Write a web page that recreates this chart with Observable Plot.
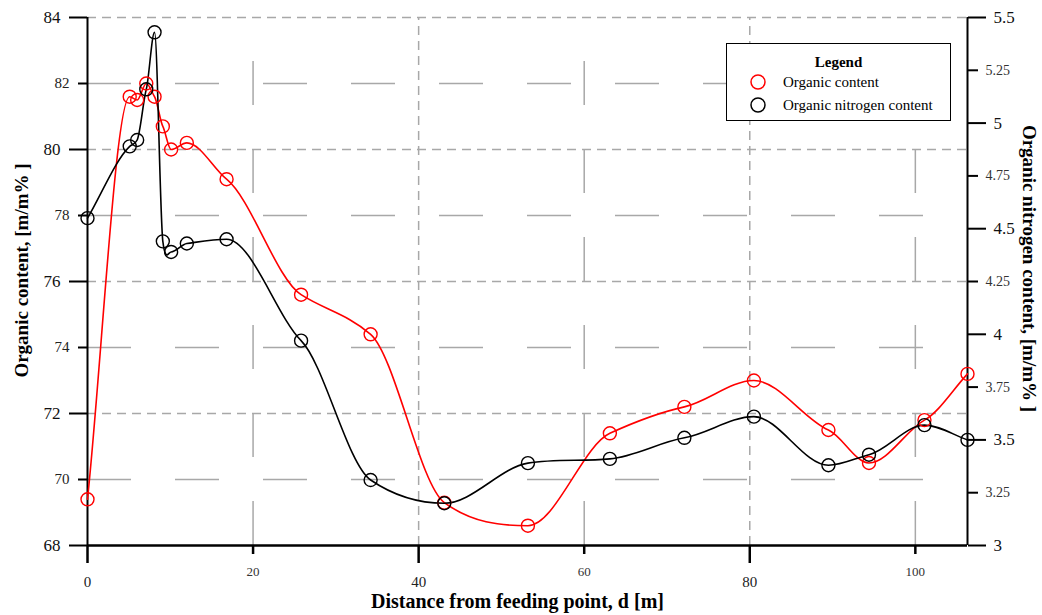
<!DOCTYPE html>
<html>
<head>
<meta charset="utf-8">
<script src="https://cdn.jsdelivr.net/npm/d3@7"></script>
<script src="https://cdn.jsdelivr.net/npm/@observablehq/plot@0.6"></script>
<style>
  body { margin: 0; background: #fff; }
  #wrap { position: relative; width: 1042px; height: 615px; font-family: "Liberation Serif", "DejaVu Serif", serif; }
  #legend { position: absolute; left: 726px; top: 43px; width: 225px; height: 78px; border: 1px solid #000; background: #fff; box-sizing: border-box; }
  #legend .ttl { position: absolute; left: 0; width: 100%; top: 10px; text-align: center; font-weight: bold; font-size: 15px; line-height: 16px; }
  #legend .row { position: absolute; left: 23px; font-size: 15px; line-height: 16px; display: flex; align-items: center; }
  #legend .row svg { margin-right: 17px; }
</style>
</head>
<body>
<div id="wrap"></div>
<script>
// ---- data ----
const distance = [0, 5.1, 6.0, 7.1, 8.1, 9.1, 10.1, 12.0, 16.8, 25.8, 34.2, 43.1, 53.2, 63.1, 72.1, 80.5, 89.5, 94.4, 101.1, 106.3];
const organicContent = [69.4, 81.6, 81.5, 82.0, 81.6, 80.7, 80.0, 80.2, 79.1, 75.6, 74.4, 69.3, 68.6, 71.4, 72.2, 73.0, 71.5, 70.5, 71.8, 73.2];
const nitrogenContent = [4.55, 4.89, 4.92, 5.16, 5.43, 4.44, 4.39, 4.43, 4.45, 3.97, 3.31, 3.20, 3.39, 3.41, 3.51, 3.61, 3.38, 3.43, 3.57, 3.50];

const xMajorTicks = [0, 40, 80];
const xMinorTicks = [20, 60, 100];
const yLeftMajorTicks = [68, 72, 76, 80, 84];
const yLeftMinorTicks = [70, 74, 78, 82];
const yRightMajorTicks = [3, 3.5, 4, 4.5, 5, 5.5];
const yRightMinorTicks = [3.25, 3.75, 4.25, 4.75, 5.25];

const xDomain = [0, 106.3];
const leftDomain = [68, 84];
const rightDomain = [3, 5.5];

const xLabel = "Distance from feeding point, d [m]";
const yLeftLabel = "Organic content, [m/m% ]";
const yRightLabel = "Organic nitrogen content, [m/m% ]";

// ---- mapping of right axis onto left scale ----
const k = (leftDomain[1] - leftDomain[0]) / (rightDomain[1] - rightDomain[0]);
const toLeft = v => leftDomain[0] + (v - rightDomain[0]) * k;

const rows = distance.map((d, i) => ({d, org: organicContent[i], nit: toLeft(nitrogenContent[i])}));

// ---- smoothing curve: cubic Hermite along x with reduced tangents (no loops) ----
const TENSION_SCALE = 0.6;
function HermiteX(context) { this._context = context; }
HermiteX.prototype = {
  areaStart() {}, areaEnd() {},
  lineStart() { this._x = []; this._y = []; },
  point(x, y) { this._x.push(+x); this._y.push(+y); },
  lineEnd() {
    const X = this._x, Y = this._y, n = X.length, c = this._context;
    if (!n) return;
    c.moveTo(X[0], Y[0]);
    if (n === 2) { c.lineTo(X[1], Y[1]); return; }
    const m = [];
    for (let i = 0; i < n; i++) {
      if (i === 0) m[i] = (Y[1] - Y[0]) / (X[1] - X[0]);
      else if (i === n - 1) m[i] = (Y[n - 1] - Y[n - 2]) / (X[n - 1] - X[n - 2]);
      else if ((Y[i] - Y[i - 1]) * (Y[i + 1] - Y[i]) <= 0) m[i] = 0;
      else m[i] = TENSION_SCALE * (Y[i + 1] - Y[i - 1]) / (X[i + 1] - X[i - 1]);
    }
    for (let i = 0; i < n - 1; i++) {
      const h = (X[i + 1] - X[i]) / 3;
      c.bezierCurveTo(X[i] + h, Y[i] + m[i] * h, X[i + 1] - h, Y[i + 1] - m[i + 1] * h, X[i + 1], Y[i + 1]);
    }
  }
};
const curve = ctx => new HermiteX(ctx);

const serif = "Liberation Serif";
const gridColor = "#a8a8a8";
const blank = () => "";

const chart = Plot.plot({
  width: 1042,
  height: 615,
  marginLeft: 87,
  marginRight: 75,
  marginTop: 17,
  marginBottom: 70,
  style: {background: "#fff", fontFamily: serif, overflow: "visible"},
  x: {domain: xDomain},
  y: {domain: leftDomain},
  marks: [
    // grid
    Plot.ruleY(yLeftMajorTicks.slice(1), {x1: xDomain[0], x2: xDomain[1], stroke: gridColor, strokeWidth: 1.5, strokeDasharray: "9,6"}),
    Plot.ruleY(yLeftMinorTicks, {x1: xDomain[0], x2: xDomain[1], stroke: gridColor, strokeWidth: 1.5, strokeDasharray: "44,44"}),
    Plot.ruleX(xMajorTicks.slice(1), {y1: leftDomain[0], y2: leftDomain[1], stroke: gridColor, strokeWidth: 1.5, strokeDasharray: "9,6"}),
    Plot.ruleX(xMinorTicks, {y1: leftDomain[0], y2: leftDomain[1], stroke: gridColor, strokeWidth: 1.5, strokeDasharray: "44,44"}),
    // axis lines
    Plot.ruleX([xDomain[0]], {stroke: "#000", strokeWidth: 2}),
    Plot.ruleX([xDomain[1]], {stroke: "#000", strokeWidth: 2}),
    Plot.ruleY([leftDomain[0]], {stroke: "#000", strokeWidth: 2.5}),
    // tick marks
    Plot.axisX(xMajorTicks, {tickSize: 18, strokeWidth: 2.5, stroke: "#000", tickFormat: blank, label: null}),
    Plot.axisX(xMinorTicks, {tickSize: 9, strokeWidth: 2.5, stroke: "#000", tickFormat: blank, label: null}),
    Plot.axisY(yLeftMajorTicks, {tickSize: 18, strokeWidth: 2, stroke: "#000", tickFormat: blank, label: null}),
    Plot.axisY(yLeftMinorTicks, {tickSize: 9, strokeWidth: 2, stroke: "#000", tickFormat: blank, label: null}),
    Plot.axisY(yRightMajorTicks.map(toLeft), {anchor: "right", tickSize: 18, strokeWidth: 2, stroke: "#000", tickFormat: blank, label: null}),
    Plot.axisY(yRightMinorTicks.map(toLeft), {anchor: "right", tickSize: 10, strokeWidth: 2, stroke: "#000", tickFormat: blank, label: null}),
    // tick labels
    Plot.text(xMajorTicks, {x: d => d, text: d => String(d), frameAnchor: "bottom", lineAnchor: "top", dy: 31, fontSize: 15, fill: "#222"}),
    Plot.text(xMinorTicks, {x: d => d, text: d => String(d), frameAnchor: "bottom", lineAnchor: "top", dy: 21, fontSize: 13, fill: "#333"}),
    Plot.text(yLeftMajorTicks, {y: d => d, text: d => String(d), frameAnchor: "left", textAnchor: "end", dx: -27, fontSize: 17, fill: "#111"}),
    Plot.text(yLeftMinorTicks, {y: d => d, text: d => String(d), frameAnchor: "left", textAnchor: "end", dx: -18, fontSize: 15, fill: "#222"}),
    Plot.text(yRightMajorTicks, {y: d => toLeft(d), text: d => String(d), frameAnchor: "right", textAnchor: "start", dx: 26, fontSize: 17, fill: "#111"}),
    Plot.text(yRightMinorTicks, {y: d => toLeft(d), text: d => String(d), frameAnchor: "right", textAnchor: "start", dx: 18, fontSize: 14, fill: "#333"}),
    // titles
    Plot.text([xLabel], {frameAnchor: "bottom", dy: 62, dx: -10, fontSize: 20, fontWeight: "bold", fill: "#000"}),
    Plot.text([yLeftLabel], {frameAnchor: "left", textAnchor: "middle", rotate: -90, dx: -66, dy: -11, fontSize: 19, fontWeight: "bold", fill: "#000"}),
    Plot.text([yRightLabel], {frameAnchor: "right", textAnchor: "middle", rotate: 90, dx: 62, dy: -13, fontSize: 19, fontWeight: "bold", fill: "#000"}),
    // data
    Plot.line(rows, {x: "d", y: "org", curve, stroke: "#ff0000", strokeWidth: 1.6}),
    Plot.line(rows, {x: "d", y: "nit", curve, stroke: "#000", strokeWidth: 1.6}),
    Plot.dot(rows, {x: "d", y: "org", r: 6.5, stroke: "#ff0000", strokeWidth: 1.4, fill: "none"}),
    Plot.dot(rows, {x: "d", y: "nit", r: 6.5, stroke: "#000", strokeWidth: 1.4, fill: "none"})
  ]
});

const wrap = document.getElementById("wrap");
wrap.appendChild(chart);

const legend = document.createElement("div");
legend.id = "legend";
const circle = c => `<svg width="16" height="16"><circle cx="8" cy="8" r="7" fill="none" stroke="${c}" stroke-width="1.5"/></svg>`;
legend.innerHTML = `<div class="ttl">Legend</div>
  <div class="row" style="top:30px">${circle("#ff0000")}<span>Organic content</span></div>
  <div class="row" style="top:53px">${circle("#000")}<span>Organic nitrogen content</span></div>`;
wrap.appendChild(legend);
</script>
</body>
</html>
